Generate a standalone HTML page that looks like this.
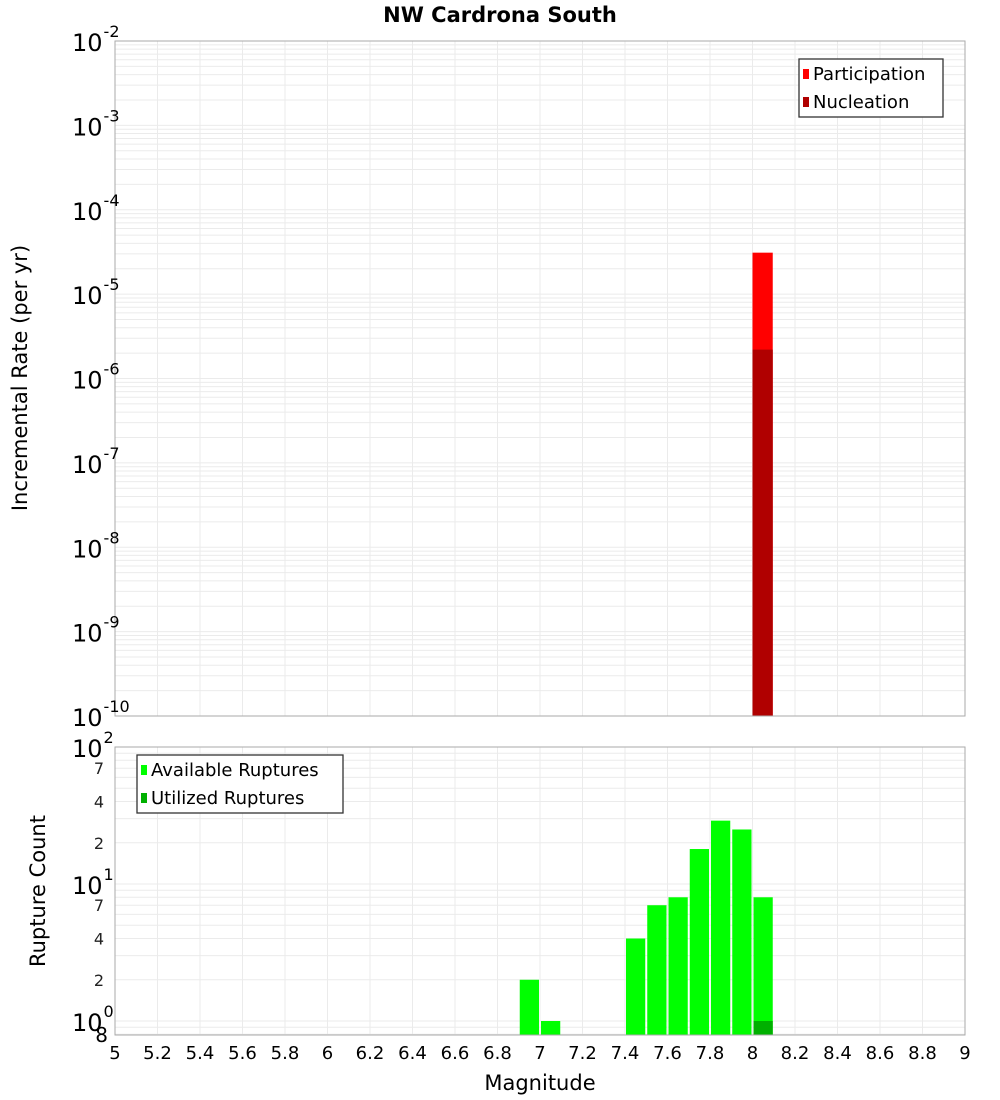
<!DOCTYPE html>
<html><head><meta charset="utf-8"><style>
html,body{margin:0;padding:0;background:#fff;}
svg{display:block;font-family:"DejaVu Sans","Liberation Sans",sans-serif;}
</style></head><body>
<svg id="c" width="1000" height="1100" viewBox="0 0 1000 1100" xmlns="http://www.w3.org/2000/svg">
<text x="500" y="22" text-anchor="middle" font-size="21" font-weight="bold">NW Cardrona South</text>
<text transform="translate(27,378) rotate(-90)" text-anchor="middle" font-size="21">Incremental Rate (per yr)</text>
<text transform="translate(45,891) rotate(-90)" text-anchor="middle" font-size="21">Rupture Count</text>
<text x="540" y="1090" text-anchor="middle" font-size="21">Magnitude</text>
<g id="g"></g>
</svg>
<script>
// Data
const partMags = [8.0];
const partRates = [3.1e-5];
const nuclMags = [8.0];
const nuclRates = [2.2e-6];
const availMags = [6.9, 7.0, 7.4, 7.5, 7.6, 7.7, 7.8, 7.9, 8.0];
const availCounts = [2, 1, 4, 7, 8, 18, 29, 25, 8];
const utilMags = [8.0];
const utilCounts = [1];
const xTicks = [5,5.2,5.4,5.6,5.8,6,6.2,6.4,6.6,6.8,7,7.2,7.4,7.6,7.8,8,8.2,8.4,8.6,8.8,9];
const topDecades = [-2,-3,-4,-5,-6,-7,-8,-9,-10];
const botDecades = [2,1,0];
const botMinorLabels = [7,4,2];

const NS='http://www.w3.org/2000/svg';
const g=document.getElementById('g');
function el(t,a,p){const e=document.createElementNS(NS,t);for(const k in a)e.setAttribute(k,a[k]);(p||g).appendChild(e);return e;}
const X0=115,X1=965;
const xs=m=>X0+(m-5)/4*(X1-X0);
const T0=41,T1=716;
const ysTop=v=>T0+(-2-Math.log10(v))/8*(T1-T0);
const B0=747,B1=1035,BPD=137,B10=1021;
const ysBot=v=>B10-Math.log10(v)*BPD;

// grids
function grid(y0,y1,yfn,dmin,dmax){
  for(let d=dmin;d<dmax;d++)for(let k=1;k<10;k++){const v=k*Math.pow(10,d);const y=yfn(v);if(y<y0-0.5||y>y1+0.5)continue;
    const l=el('line',{x1:X0,x2:X1,y1:y,y2:y,stroke:'#ebebeb','stroke-width':1});
    }
  xTicks.forEach(t=>{const l=el('line',{x1:xs(t),x2:xs(t),y1:y0,y2:y1,stroke:'#ebebeb','stroke-width':1});
    });
}
grid(T0,T1,ysTop,-10,-1);
grid(B0,B1,ysBot,-1,3);

// top bars
partMags.forEach((m,i)=>{const r=el('rect',{x:xs(m),y:ysTop(partRates[i]),width:xs(m+0.1)-xs(m)-1,height:T1-ysTop(partRates[i]),fill:'#ff0000'});
  });
nuclMags.forEach((m,i)=>{const r=el('rect',{x:xs(m),y:ysTop(nuclRates[i]),width:xs(m+0.1)-xs(m)-1,height:T1-ysTop(nuclRates[i]),fill:'#b00000'});
  });
// bottom bars
availMags.forEach((m,i)=>{const y=ysBot(availCounts[i]);const r=el('rect',{x:xs(m)+1,y:y,width:xs(m+0.1)-xs(m)-2,height:B1-y,fill:'#00ff00'});
  });
utilMags.forEach((m,i)=>{const y=ysBot(utilCounts[i]);const r=el('rect',{x:xs(m)+1,y:y,width:xs(m+0.1)-xs(m)-2,height:B1-y,fill:'#00b000'});
  });

// frames
let f=el('rect',{x:X0,y:T0,width:X1-X0,height:T1-T0,fill:'none',stroke:'#aaa','stroke-width':1});

f=el('rect',{x:X0,y:B0,width:X1-X0,height:B1-B0,fill:'none',stroke:'#aaa','stroke-width':1});


// y tick labels
function decLabel(y,e,name){const t=el('text',{x:72,y:y+10,'font-size':24});
  t.textContent='10';const s=el('tspan',{dy:-14,'font-size':16,dx:1},t);s.textContent=String(e);}
topDecades.forEach(d=>decLabel(ysTop(Math.pow(10,d)),d,'top-y-tick-label'));
botDecades.forEach(d=>decLabel(ysBot(Math.pow(10,d)),d,'bottom-y-tick-label'));
[1,0].forEach(d=>botMinorLabels.forEach(k=>{const t=el('text',{x:104,y:ysBot(k*Math.pow(10,d))+6,'font-size':16,'text-anchor':'end',fill:'#222'});
  t.textContent=String(k);}));
let t8=el('text',{x:108,y:1042,'font-size':20,'text-anchor':'end'});t8.textContent='8';

// x tick labels
xTicks.forEach(v=>{const t=el('text',{x:xs(v),y:1059,'font-size':18,'text-anchor':'middle'});
  t.textContent=String(v);});

// legends
function legend(x,y,w,items,name){const lg=el('g',{});
  el('rect',{x:x,y:y,width:w,height:58,fill:'#fff',stroke:'#333','stroke-width':1.3},lg);
  items.forEach((it,i)=>{el('rect',{x:x+4,y:y+10+i*28,width:6,height:10,fill:it[1]},lg);
    const t=el('text',{x:x+14,y:y+21+i*28,'font-size':18},lg);t.textContent=it[0];});}
legend(799,59,144,[['Participation','#ff0000'],['Nucleation','#b00000']],'top-legend');
legend(137,755,206,[['Available Ruptures','#00ff00'],['Utilized Ruptures','#00b000']],'bottom-legend');
</script>
</body></html>
